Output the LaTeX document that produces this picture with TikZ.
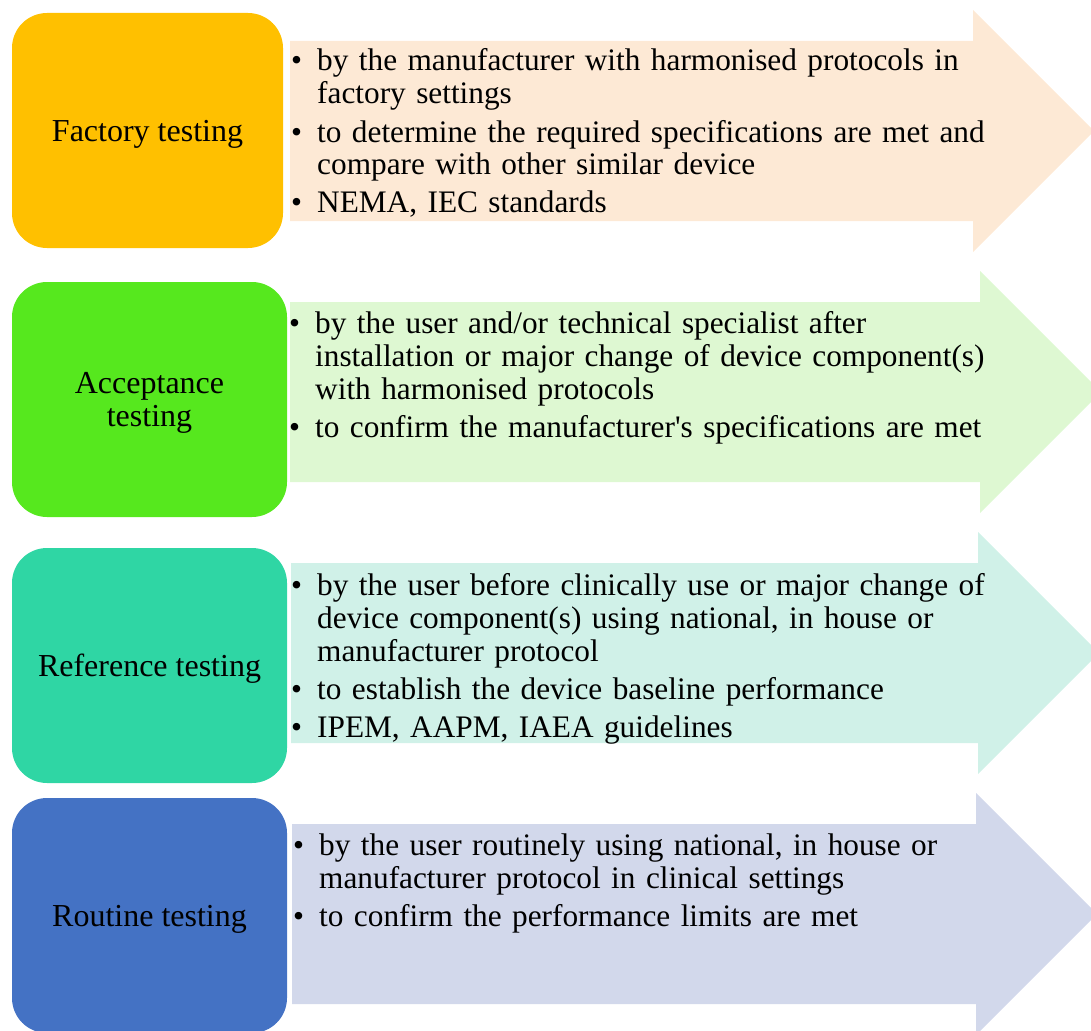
\documentclass[tikz,border=0pt]{standalone}
\usepackage{fontspec}
\setmainfont{Liberation Serif}
\definecolor{factorycol}{HTML}{FFC000}
\definecolor{acceptcol}{HTML}{56E81E}
\definecolor{referencecol}{HTML}{2FD6A4}
\definecolor{routinecol}{HTML}{4472C4}
\definecolor{factorylight}{HTML}{FDE9D5}
\definecolor{acceptlight}{HTML}{DEF8D2}
\definecolor{referencelight}{HTML}{D0F1E8}
\definecolor{routinelight}{HTML}{D2D8EB}
\providecommand{\pitem}[1]{\noindent\hangindent=26pt\hangafter=1\makebox[26pt][l]{\textbullet}#1}
\tikzset{
  testbox/.style={rounded corners=35pt,minimum height=235pt,minimum width=275pt,inner sep=0,text depth=0pt,align=center,font=\fontsize{32}{33}\selectfont},
  bullettext/.style={anchor=base west,inner sep=0,text width=760pt,font=\fontsize{31.3}{33}\selectfont\setlength{\parskip}{5pt}}
}

\begin{document}
\begin{tikzpicture}[x=1pt,y=-1pt]
    \pgfmathsetmacro{\bodyhalf}{90}
    \pgfmathsetmacro{\headhalf}{121}
    \pgfmathsetmacro{\bodyleft}{290}
    \useasboundingbox (0,0) rectangle (1091,1030);
    % arrows
    \fill[factorylight] (\bodyleft,131-\bodyhalf) -- (973,131-\bodyhalf) -- (973,131-\headhalf) -- (973+\headhalf,131) -- (973,131+\headhalf) -- (973,131+\bodyhalf) -- (\bodyleft,131+\bodyhalf) -- cycle;
    \fill[acceptlight] (\bodyleft,392-\bodyhalf) -- (980,392-\bodyhalf) -- (980,392-\headhalf) -- (980+\headhalf,392) -- (980,392+\headhalf) -- (980,392+\bodyhalf) -- (\bodyleft,392+\bodyhalf) -- cycle;
    \fill[referencelight] (\bodyleft+1,653-\bodyhalf) -- (978,653-\bodyhalf) -- (978,653-\headhalf) -- (978+\headhalf,653) -- (978,653+\headhalf) -- (978,653+\bodyhalf) -- (\bodyleft+1,653+\bodyhalf) -- cycle;
    \fill[routinelight] (\bodyleft+2,914-\bodyhalf) -- (976,914-\bodyhalf) -- (976,914-\headhalf) -- (976+\headhalf,914) -- (976,914+\headhalf) -- (976,914+\bodyhalf) -- (\bodyleft+2,914+\bodyhalf) -- cycle;
    % boxes
    \node[testbox,fill=factorycol,minimum width=271pt] (factory) at (147.5,130.5) {Factory testing};
    \node[testbox,fill=acceptcol] (acceptance) at (149.5,399.5) {Acceptance\\testing};
    \node[testbox,fill=referencecol] (reference) at (149.5,665.5) {Reference testing};
    \node[testbox,fill=routinecol] (routine) at (149.5,915.5) {Routine testing};
    % bullet texts
    \node[bullettext] (factorytext) at (291,71) {%
        \pitem{by the manufacturer with harmonised protocols in\newline factory settings}\par
        \pitem{to determine the required specifications are met and\newline compare with other similar device}\par
        \pitem{NEMA, IEC standards}};
    \node[bullettext] (acceptancetext) at (289,333) {%
        \pitem{by the user and/or technical specialist after\newline installation or major change of device component(s)\newline with harmonised protocols}\par
        \pitem{to confirm the manufacturer\textquotesingle s specifications are met}};
    \node[bullettext] (referencetext) at (291,595) {%
        \pitem{by the user before clinically use or major change of\newline device component(s) using national, in house or\newline manufacturer protocol}\par
        \pitem{to establish the device baseline performance}\par
        \pitem{IPEM, AAPM, IAEA guidelines}};
    \node[bullettext] (routinetext) at (293,855) {%
        \pitem{by the user routinely using national, in house or\newline manufacturer protocol in clinical settings}\par
        \pitem{to confirm the performance limits are met}};
\end{tikzpicture}
\end{document}
